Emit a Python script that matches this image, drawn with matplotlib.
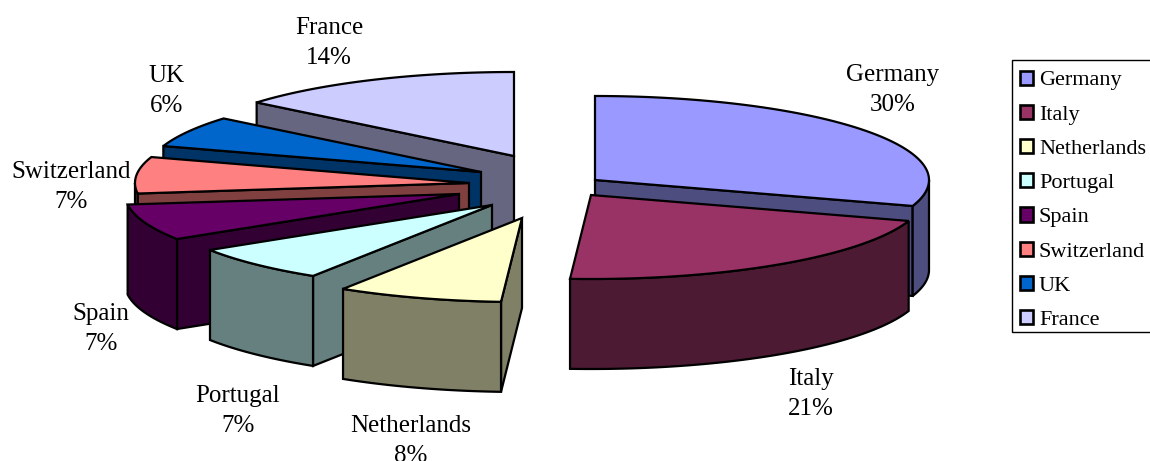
import matplotlib
matplotlib.use('Agg')
import matplotlib.pyplot as plt
from matplotlib.patches import Polygon, Patch, Rectangle
import numpy as np

plt.rcParams['font.family'] = ['Liberation Serif', 'DejaVu Serif']

# datos del grafico
paises = ['Germany', 'Italy', 'Netherlands', 'Portugal', 'Spain', 'Switzerland', 'UK', 'France']
valores = [30, 21, 8, 7, 7, 7, 6, 14]

# colores de cara superior, los lados van a mitad de brillo
colores = ['#9999FF', '#993366', '#FFFFCC', '#CCFFFF', '#660066', '#FF8080', '#0066CC', '#CCCCFF']

# vertice de cada porcion ya separada, en pixeles
vertice_x = [595, 591, 522, 492, 459, 469, 481, 514]
vertice_y = [180, 195, 218, 205, 194, 183, 172, 156]

# posicion del centro de cada etiqueta
etiqueta_x = [893, 811, 411, 238, 101, 71, 167, 329]
etiqueta_y = [90, 394, 441, 411, 329, 187, 91, 43]

RX = 334
RY = 84
ALTO = 90
GROSOR = 1.6
ORDEN = [7, 6, 5, 4, 3, 2, 0, 1]  # de atras hacia adelante


def punto(cx, cy, ang, baja=0):
    '''Punto del borde de la elipse, ang en grados desde arriba en sentido horario'''
    r = np.radians(ang)
    return cx + RX * np.sin(r), cy - RY * np.cos(r) + baja


def mitad(color):
    rgb = matplotlib.colors.to_rgb(color)
    return tuple(c * 0.5 for c in rgb)


def cara_radial(ax, cx, cy, ang, color):
    x, y = punto(cx, cy, ang)
    pts = [(cx, cy), (x, y), (x, y + ALTO), (cx, cy + ALTO)]
    ax.add_patch(Polygon(pts, closed=True, fc=mitad(color), ec='black', lw=GROSOR))


def dibujar_porcion(ax, cx, cy, a0, a1, color):
    # caras cortadas que miran hacia el frente
    if np.sin(np.radians(a0)) < -1e-6:
        cara_radial(ax, cx, cy, a0, color)
    if np.sin(np.radians(a1)) > 1e-6:
        cara_radial(ax, cx, cy, a1, color)

    # borde curvo, solo la parte de la elipse que da al frente
    ini, fin = max(a0, 90), min(a1, 270)
    if fin > ini:
        t = np.linspace(ini, fin, 80)
        arriba = [punto(cx, cy, a) for a in t]
        abajo = [punto(cx, cy, a, ALTO) for a in t[::-1]]
        ax.add_patch(Polygon(arriba + abajo, closed=True, fc=mitad(color), ec='black', lw=GROSOR))

    # cara superior
    t = np.linspace(a0, a1, 120)
    pts = [(cx, cy)] + [punto(cx, cy, a) for a in t]
    ax.add_patch(Polygon(pts, closed=True, fc=color, ec='black', lw=GROSOR))


fig = plt.figure(figsize=(11.5, 4.61), dpi=100)
ax = fig.add_axes([0, 0, 1, 1])
ax.set_xlim(0, 1150)
ax.set_ylim(461, 0)
ax.axis('off')

limites = np.cumsum([0] + valores) * 360 / sum(valores)

for i in ORDEN:
    dibujar_porcion(ax, vertice_x[i], vertice_y[i], limites[i], limites[i + 1], colores[i])

for i in range(len(paises)):
    ax.text(etiqueta_x[i], etiqueta_y[i], f'{paises[i]}\n{valores[i]}%', ha='center', va='center',
            fontsize=18, linespacing=1.46, color='black')

# marco de la leyenda aparte, se sale por la derecha de la figura
ax.add_patch(Rectangle((1012, 60), 150, 272, fc='white', ec='black', lw=1.0))

marcas = [Patch(fc=c, ec='black', lw=1.9) for c in colores]
ax.legend(marcas, paises, loc='upper left', bbox_to_anchor=(1012 / 1150, 1 - 63 / 461),
          bbox_transform=fig.transFigure, fontsize=16, frameon=False, borderaxespad=0,
          borderpad=0.34, handlelength=0.6, handleheight=0.6, handletextpad=0.27,
          labelspacing=0.645)

fig.savefig('out.png', dpi=100)
